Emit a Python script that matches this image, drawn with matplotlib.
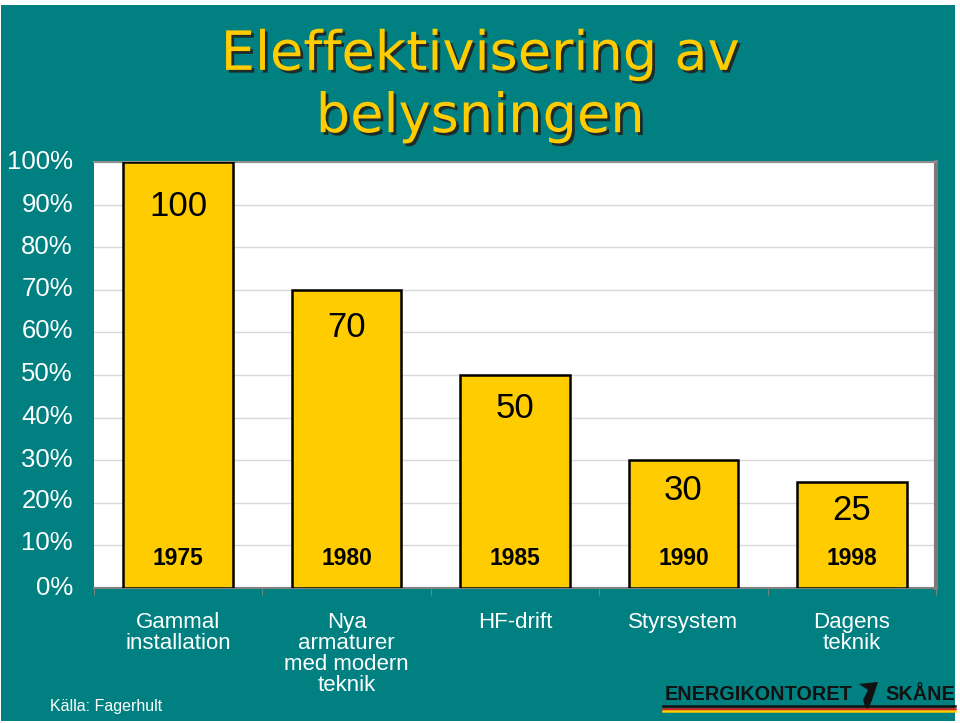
import matplotlib.pyplot as plt
import matplotlib.patheffects as pe
from matplotlib.lines import Line2D
from matplotlib.patches import Rectangle, Polygon

categories = ["Gammal\ninstallation", "Nya\narmaturer\nmed modern\nteknik",
              "HF-drift", "Styrsystem", "Dagens\nteknik"]
values = [100, 70, 50, 30, 25]
years = ["1975", "1980", "1985", "1990", "1998"]
yticks = [0, 10, 20, 30, 40, 50, 60, 70, 80, 90, 100]

teal = "#008080"
yellow = "#FFCC00"
W, H = 960, 723

fig = plt.figure(figsize=(9.6, 7.23), dpi=100, facecolor="white")
# teal slide background with thin white margin like the screenshot
fig.add_artist(Rectangle((1 / W, 1 - 721 / H), 954 / W, 716 / H,
                         facecolor=teal, edgecolor="none",
                         transform=fig.transFigure, zorder=-10))

ax = fig.add_axes([94 / W, 1 - 588 / H, 842 / W, 426 / H])
ax.set_facecolor("white")

x = range(len(values))
ax.bar(x, values, width=0.65, color=yellow, edgecolor="black", linewidth=1.8, zorder=3)
ax.set_xlim(-0.5, len(values) - 0.5)
ax.set_ylim(0, 100)

px = 426 / 100  # pixels per unit
for i, v in enumerate(values):
    off = (24 + 0.2 * v) / px
    ax.text(i, v - off, str(v), ha="center", va="center", fontsize=25,
            family="Liberation Sans", color="black", zorder=4)
    ax.text(i, 6.9, years[i], ha="center", va="center", fontsize=16.5,
            fontweight="bold", family="Liberation Sans", color="black", zorder=4)

ax.set_yticks(yticks)
ax.set_yticklabels([])
ax.yaxis.grid(True, color="#d9d9d9", linewidth=1, zorder=0)
ax.tick_params(axis="y", length=0)

# category labels below axis
ax.set_xticks(list(x))
ax.set_xticklabels(categories, color="white", fontsize=16,
                   family="Liberation Sans", linespacing=1.0, va="top")
ax.tick_params(axis="x", length=0, pad=17)
ax.set_xticks([i + 0.5 for i in range(-1, len(values))], minor=True)
ax.tick_params(axis="x", which="minor", length=5, color="#888888", direction="out")

ax.spines["left"].set_visible(False)
ax.spines["bottom"].set_color("#808080")
ax.spines["bottom"].set_linewidth(1.5)
ax.spines["top"].set_color("#909090")
ax.spines["top"].set_linewidth(1.5)
ax.spines["right"].set_color("#7a7a7a")
ax.spines["right"].set_linewidth(3)

# y labels placed on the left in the teal area
label_y = [588, 543, 501, 460, 417, 374, 331, 289, 247, 205, 162]
for t, py in zip(yticks, label_y):
    fig.text(73 / W, 1 - py / H, f"{t}%", ha="right", va="center",
             fontsize=18.5, color="white", family="Liberation Sans")

# title
fig.text(480 / W, 1 - 86 / H, "Eleffektivisering av\nbelysningen", ha="center",
         va="center", fontsize=39, color=yellow, family="DejaVu Sans",
         linespacing=1.25,
         path_effects=[pe.withSimplePatchShadow(offset=(2, -2), shadow_rgbFace="#222222", alpha=0.9)])

fig.text(50 / W, 1 - 706 / H, "Källa: Fagerhult", ha="left", va="center",
         fontsize=11.5, color="white", family="Liberation Sans")

# logo
fig.text(665 / W, 1 - 695 / H, "ENERGIKONTORET", ha="left", va="center",
         fontsize=14.3, fontweight="bold", color="#111111", family="Liberation Sans")
fig.text(955 / W, 1 - 695 / H, "SKÅNE", ha="right", va="center",
         fontsize=14.3, fontweight="bold", color="#111111", family="Liberation Sans")
fig.add_artist(Polygon([(859 / W, 1 - 684 / H), (878 / W, 1 - 682 / H),
                        (872 / W, 1 - 700 / H), (867 / W, 1 - 712 / H),
                        (863 / W, 1 - 700 / H), (868 / W, 1 - 690 / H)],
                       closed=True, facecolor="#111111", edgecolor="none",
                       transform=fig.transFigure))
for yy, c in [(706, "#111111"), (708.5, "#d42020"), (711, yellow)]:
    fig.add_artist(Line2D([663 / W, 955 / W], [1 - yy / H, 1 - yy / H],
                          color=c, linewidth=1.8, transform=fig.transFigure))

fig.savefig("out.png", dpi=100, facecolor="white")
